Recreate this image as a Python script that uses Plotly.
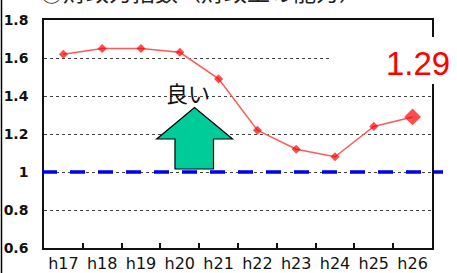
import plotly.graph_objects as go

years = ["h17", "h18", "h19", "h20", "h21", "h22", "h23", "h24", "h25", "h26"]
index_values = [1.62, 1.65, 1.65, 1.63, 1.49, 1.22, 1.12, 1.08, 1.24, 1.29]
y_ticks = [0.6, 0.8, 1, 1.2, 1.4, 1.6, 1.8]
y_tick_text = ["0.6", "0.8", "1", "1.2", "1.4", "1.6", "1.8"]
baseline_value = 1.0
title_text = "①財政力指数（財政上の能力）"
good_text = "良い"
latest_label = "1.29"

W, H = 457, 273
L, R, T, B = 44, 25, 20, 25
PW, PH = W - L - R, H - T - B


def px(x):
    return (x - L) / PW


def py(y):
    return (H - B - y) / PH


marker_sizes = [7] * (len(years) - 1) + [13]

fig = go.Figure()
fig.add_trace(go.Scatter(
    x=years, y=index_values, mode="lines+markers",
    line=dict(color="#ff5a5a", width=1.5),
    marker=dict(symbol="diamond", size=marker_sizes, color="#ff0000",
                line=dict(width=0)),
    showlegend=False, hoverinfo="skip",
))

pts = [(194.5, 107.5), (232.5, 139), (213.5, 139), (213.5, 169),
       (175, 169), (175, 139), (156.7, 139)]
path = "M " + " L ".join(f"{px(a):.4f},{py(b):.4f}" for a, b in pts) + " Z"

shapes = [
    dict(type="path", xref="paper", yref="paper", path=path,
         fillcolor="#00cc99", line=dict(color="black", width=1.2), layer="above"),
    dict(type="line", xref="paper", yref="y", x0=px(42), x1=px(443),
         y0=baseline_value, y1=baseline_value,
         line=dict(color="#0000ee", width=3.5, dash="15px,13px"), layer="above"),
    dict(type="rect", xref="paper", yref="paper", x0=px(330), x1=px(470),
         y0=py(84), y1=py(37), fillcolor="white", line=dict(width=0), layer="above"),
    dict(type="line", xref="paper", yref="paper", x0=px(1.5), x1=px(1.5),
         y0=py(H + 5), y1=py(-5), line=dict(color="black", width=1.5), layer="above"),
]

annotations = [
    dict(text=title_text, xref="paper", yref="paper", x=px(38), y=py(-9),
         xanchor="left", yanchor="middle", showarrow=False,
         font=dict(family="Noto Sans CJK JP", size=23, color="#222")),
    dict(text=good_text, xref="paper", yref="paper", x=px(188), y=py(92),
         xanchor="center", yanchor="middle", showarrow=False,
         font=dict(family="Noto Sans CJK JP", size=22, color="#111")),
    dict(text=latest_label, xref="paper", yref="paper", x=px(418), y=py(63),
         xanchor="center", yanchor="middle", showarrow=False,
         font=dict(family="Liberation Sans, Arial", size=33, color="#ff0000")),
]

fig.update_layout(
    width=W, height=H, margin=dict(l=L, r=R, t=T, b=B, autoexpand=False),
    paper_bgcolor="white", plot_bgcolor="white",
    shapes=shapes, annotations=annotations,
    xaxis=dict(type="category", range=[-0.5, 9.5], showline=True, mirror=True,
               linecolor="#111", linewidth=1.5,
               showgrid=False, automargin=False,
               ticks="inside", tickson="boundaries", ticklen=5, tickwidth=1.5,
               tickcolor="#111",
               tickangle=0, ticklabelstandoff=0,
               tickfont=dict(family="DejaVu Sans", size=16, color="#111"),
               fixedrange=True),
    yaxis=dict(range=[0.6, 1.8], tickvals=y_ticks, ticktext=y_tick_text,
               showline=True, mirror=True, linecolor="#111", linewidth=1.5,
               showgrid=True, gridcolor="#444", griddash="dot", gridwidth=1.2,
               zeroline=False, ticks="", ticklabelstandoff=11, automargin=False,
               tickfont=dict(family="DejaVu Sans", size=14, color="#111", weight="bold"),
               fixedrange=True),
)

fig.write_html("out.html", config={"displayModeBar": False},
               post_script="document.body.style.margin='0';document.body.style.overflow='hidden';")
